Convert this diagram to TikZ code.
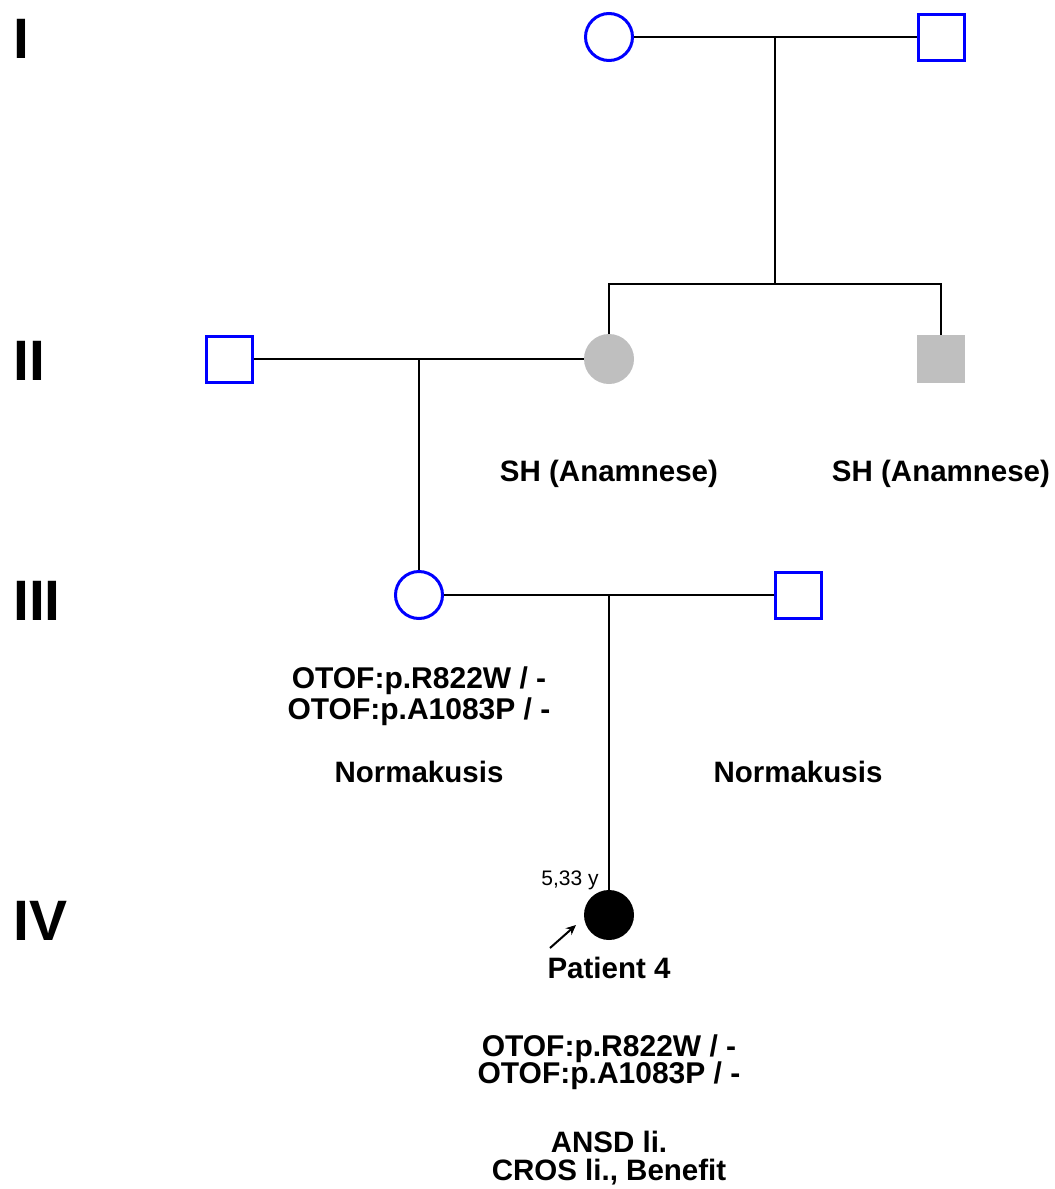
\documentclass[tikz,border=0pt]{standalone}
\usepackage{fontspec}
\setmainfont{Liberation Sans}
\usetikzlibrary{arrows.meta}
\tikzset{fem/.style={circle,draw=blue,line width=3pt,minimum size=47pt,inner sep=0pt},
  mal/.style={rectangle,draw=blue,line width=3pt,minimum size=46pt,inner sep=0pt},
  femsh/.style={circle,fill=black!25,minimum size=50pt,inner sep=0pt},
  malsh/.style={rectangle,fill=black!25,minimum size=48pt,inner sep=0pt},
  gen/.style={anchor=base west,inner sep=0pt,font=\fontsize{57}{57}\selectfont\bfseries},
  txt/.style={anchor=base,inner sep=0pt,font=\fontsize{29.5}{30}\selectfont\bfseries},
  geno/.style={anchor=base,inner sep=0pt,font=\fontsize{30}{30}\selectfont\bfseries},
  ln/.style={line width=1.5pt}}
\begin{document}
\begin{tikzpicture}[x=1pt,y=-1pt]
\useasboundingbox(0,0)rectangle(1055,1189);
\node[gen](gI)at(13,58){I};\node[gen](gII)at(13,380){II};\node[gen](gIII)at(13,620){III};\node[gen](gIV)at(13,940){IV};
\node[fem](f1)at(609,37){};\node[mal](m1)at(941,37){};
\node[mal](m2)at(229,359){};\node[femsh](f2)at(609,359){};\node[malsh](m3)at(941,359){};
\node[fem](f3)at(419,595){};\node[mal](m4)at(798,595){};
\node[circle,fill=black,minimum size=50pt,inner sep=0pt](p4)at(609,915){};
\coordinate(d1)at(775,37);\coordinate(s1)at(775,284);\coordinate(d2)at(419,359);\coordinate(d3)at(609,595);
\draw[ln](f1.east)--(m1.west);\draw[ln](d1)--(s1);\draw[ln](f2.north)|-(s1)-|(m3.north);
\draw[ln](m2.east)--(f2.west);\draw[ln](d2)--(f3.north);
\draw[ln](f3.east)--(m4.west);\draw[ln](d3)--(p4.north);
\node[txt](sh1)at(609,481){SH (Anamnese)};\node[txt](sh2)at(941,481){SH (Anamnese)};
\node[geno](o1)at(419,688){OTOF:p.R822W / -};\node[geno](o2)at(419,719){OTOF:p.A1083P / -};
\node[txt](n1)at(419,782){Normakusis};\node[txt](n2)at(798,782){Normakusis};
\node[anchor=base,inner sep=0pt,font=\fontsize{21}{21}\selectfont](age)at(570,885){5,33 y};
\coordinate(pa)at(550,948);\coordinate(pb)at(576,925);
\draw[line width=2pt,-{Stealth[length=10pt,width=9pt]}](pa)--(pb);
\node[txt](pt)at(609,978){Patient 4};
\node[geno](o3)at(609,1056){OTOF:p.R822W / -};\node[geno](o4)at(609,1083){OTOF:p.A1083P / -};
\node[txt](an)at(609,1152){ANSD li.};\node[txt](cr)at(609,1180){CROS li., Benefit};
\end{tikzpicture}
\end{document}
